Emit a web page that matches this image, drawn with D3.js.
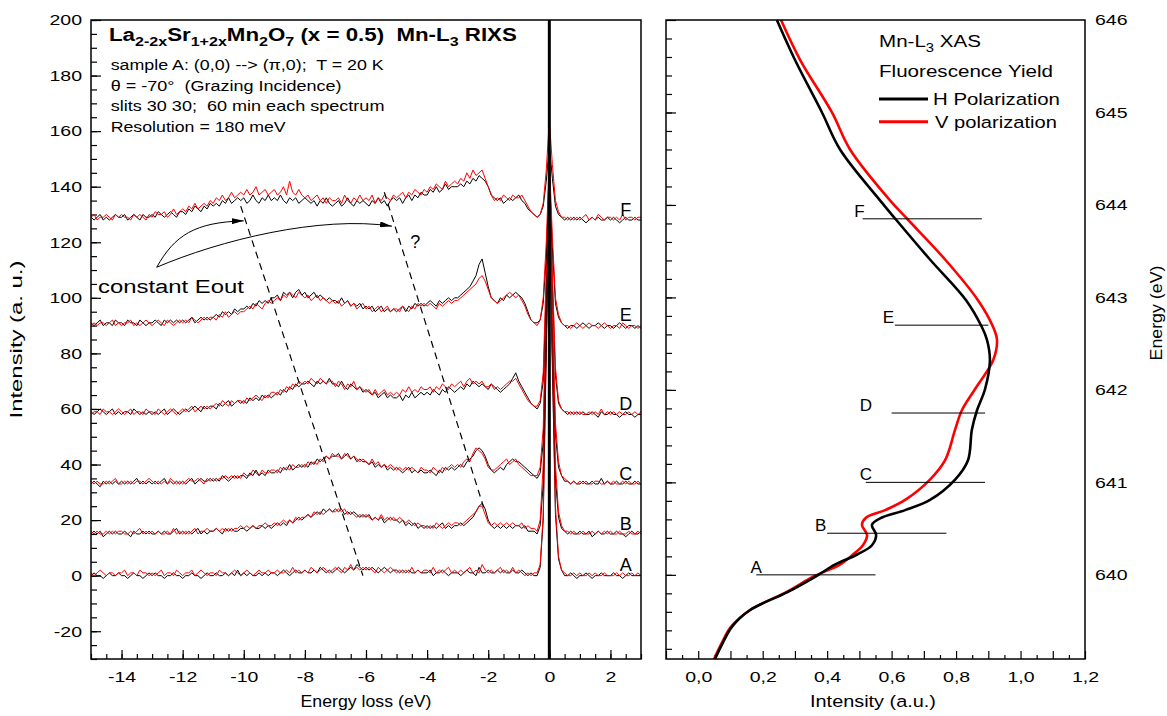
<!DOCTYPE html>
<html>
<head>
<meta charset="utf-8">
<script src="https://cdnjs.cloudflare.com/ajax/libs/d3/7.8.5/d3.min.js"></script>
<style>
  body { margin: 0; background: #fff; }
  svg text { font-family: "Liberation Sans", Arial, sans-serif; white-space: pre; fill: #000; }
</style>
</head>
<body>
<svg id="chart" width="1167" height="716"></svg>
<script>
// ---- RIXS spectra: energy loss grid (eV) and intensities relative to each offset ----
const eLoss = d3.range(181).map(i => Math.round((-15 + i * 0.1) * 10) / 10);
const names = ["A", "B", "C", "D", "E", "F"];
const offsets = [0, 15, 33, 58, 90, 128];

const aH = [0,1,0,0,-1,0,1,0,0,1, 0,0,-1,0,1,0,0,-1,0,1, 0,1,0,0,-1,0,0,1,0,0, -1,0,0,1,0,0,-1,0,1,0, 0,1,0,0,1,0,1,0,2,0, 1,0,1,0,0,1,0,1,0,1, 1,0,1,2,1,0,1,2,1,1, 2,1,1,2,1,3,2,1,2,1, 2,3,2,1,2,3,2,4,3,2, 3,2,3,2,1,2,3,2,1,2, 2,1,2,1,2,1,1,2,1,1, 1,2,0,1,1,2,1,0,1,1, 1,0,1,2,1,1,0,3,1,1, 2,1,1,2,1,2,1,1,2,1, 1,2,1,0,1,0,0,3,20,80, 140,75,22,6,2,0,0,1,0,-1, 0,0,1,0,-1,0,0,1,0,0, 0,1,0,0,-1,0,1,0,0,0, 0];
const aV = [1,0,1,2,1,0,1,1,0,1, 1,2,0,1,1,0,2,1,1,0, 1,0,1,2,0,1,1,0,2,1, 0,1,1,2,0,1,2,1,0,1, 1,0,2,1,1,0,1,2,1,0, 1,2,1,0,1,2,1,1,2,1, 1,2,1,1,2,1,3,1,2,1, 2,1,3,2,1,2,3,2,1,2, 3,2,1,3,2,4,2,3,2,3, 2,3,2,1,3,2,1,2,3,2, 1,2,1,2,1,3,1,2,1,2, 2,1,3,1,2,1,2,3,1,2, 1,2,1,2,3,1,2,1,4,2, 1,2,1,2,3,1,2,1,3,1, 2,1,0,1,0,1,1,4,22,85, 135,78,25,7,2,1,0,0,1,0, 1,0,0,1,0,1,0,0,1,0, 0,0,1,0,1,0,0,1,0,1, 0];
const bH = [0,1,0,1,-1,0,1,0,1,0, 0,1,0,-1,1,0,0,1,0,1, 0,0,1,0,1,0,0,1,2,0, 1,0,1,0,1,2,0,1,0,1, 1,2,1,0,2,1,2,1,1,2, 2,1,2,3,2,2,3,2,3,2, 3,4,3,4,3,5,4,5,6,5, 6,7,6,7,8,7,9,8,9,8, 9,8,9,7,8,7,8,7,6,7, 6,7,5,6,5,6,4,5,6,5, 5,4,5,3,4,3,4,2,3,2, 3,2,3,2,3,4,2,3,2,3, 3,4,3,4,5,6,8,10,11,9, 5,3,2,3,2,3,2,3,2,3, 3,2,3,1,1,1,0,3,18,70, 125,65,20,6,2,1,0,1,0,0, 1,0,0,1,-1,0,1,0,0,1, 0,0,1,0,0,-1,0,1,0,0, 1];
const bV = [1,0,1,0,0,1,0,1,0,1, 1,0,0,1,0,1,2,0,1,0, 1,0,1,0,0,1,0,2,0,1, 0,1,0,1,2,0,1,1,2,1, 1,2,1,2,1,2,1,2,2,3, 2,3,2,3,2,3,3,4,3,3, 4,3,4,5,4,5,4,6,5,6, 6,7,6,8,7,8,7,8,9,8, 8,9,8,9,7,8,7,6,7,6, 7,6,5,6,5,7,5,6,5,6, 5,6,5,4,5,4,3,4,3,3, 2,3,2,4,3,2,3,4,3,4, 4,3,4,5,6,7,8,10,10,7, 4,3,4,3,4,3,4,3,4,3, 3,4,2,3,2,2,1,5,25,80, 120,70,25,8,3,1,1,0,1,0, 0,1,0,0,1,0,1,0,1,0, 1,0,0,1,0,0,1,0,0,1, 0];
const cH = [0,1,0,-1,1,0,1,0,1,0, 1,0,1,0,1,2,0,1,0,1, 0,1,0,1,2,0,1,0,1,0, 1,0,1,2,0,1,2,1,1,2, 1,2,1,3,2,1,2,3,2,3, 3,2,4,3,5,3,4,3,5,4, 4,5,4,6,5,7,5,6,7,6, 7,6,8,7,9,8,9,10,9,10, 10,11,9,10,11,9,10,8,9,8, 8,7,8,6,7,6,7,5,6,5, 6,5,4,5,6,4,5,4,5,4, 4,5,4,3,5,4,6,5,6,5, 6,7,6,8,9,10,12,13,12,10, 7,5,4,5,6,5,7,8,9,8, 8,7,6,5,4,3,2,4,15,60, 112,58,18,6,3,1,1,0,1,0, 0,1,0,0,1,0,0,2,0,1, 0,0,1,0,0,1,0,0,1,0, 0];
const cV = [1,0,1,0,0,1,0,1,2,0, 0,1,0,1,0,1,1,0,1,2, 1,0,1,0,1,0,2,1,0,1, 0,1,2,1,1,2,1,0,2,1, 2,1,2,2,3,2,3,2,3,2, 4,3,3,5,4,3,5,4,4,5, 5,4,6,5,6,5,7,6,6,7, 6,8,7,8,7,9,8,10,9,11, 10,10,9,11,10,9,10,9,8,9, 8,7,9,7,8,6,7,6,7,6, 5,6,5,6,5,6,5,4,6,5, 5,4,6,5,4,6,5,6,7,6, 7,6,8,9,8,11,13,12,11,9, 6,5,5,6,7,8,9,7,8,9, 7,6,5,4,3,3,3,6,20,70, 110,62,22,8,3,2,1,0,1,0, 1,0,1,0,0,1,1,0,0,1, 0,1,0,0,1,0,1,0,0,1, 0];
const dH = [1,0,1,2,1,0,1,2,0,1, 0,1,1,0,2,1,0,1,0,1, 0,1,0,1,2,0,1,2,1,0, 1,2,1,2,3,2,1,3,2,3, 3,2,4,3,4,5,3,4,5,4, 5,4,6,5,6,5,7,6,7,6, 7,8,7,9,8,10,9,11,10,11, 11,12,11,10,12,11,12,11,13,11, 11,10,12,10,9,11,10,9,10,8, 9,8,7,8,6,7,8,6,7,6, 6,7,5,7,6,8,6,7,8,7, 8,7,9,8,7,9,8,10,9,8, 9,10,9,11,10,12,11,10,11,10, 9,11,10,9,8,9,10,11,13,15, 12,10,8,6,4,3,2,4,12,45, 95,48,14,4,2,1,0,1,0,1, 0,1,0,0,1,0,-1,1,0,0, 1,0,0,-1,0,1,0,0,-1,0, 0];
const dV = [0,1,1,0,2,1,1,0,1,2, 1,0,1,2,0,1,1,0,2,1, 1,0,2,1,0,1,2,1,0,1, 2,1,2,3,1,2,3,2,3,2, 3,4,3,5,4,3,5,4,5,5, 4,6,5,6,7,6,5,7,6,8, 8,7,9,8,10,9,11,10,12,11, 12,11,13,12,11,13,12,11,12,12, 10,12,11,9,11,10,12,9,10,9, 8,9,7,9,7,8,9,7,8,7, 8,7,9,8,10,8,9,8,10,9, 9,10,8,10,9,11,10,9,11,10, 11,12,10,12,13,11,12,11,12,10, 10,11,9,10,9,10,11,12,12,13, 11,9,7,5,4,3,3,5,15,52, 92,50,17,5,2,1,1,0,1,0, 1,0,0,1,0,1,0,2,0,1, 0,1,0,1,0,0,1,0,1,0, 1];
const eH = [1,0,1,2,0,1,1,0,2,1, 1,0,2,1,1,0,2,1,0,1, 1,2,1,0,2,1,2,1,2,1, 2,1,2,3,1,2,3,2,3,2, 3,4,3,5,4,5,4,6,5,6, 6,7,6,8,7,9,8,9,8,10, 10,11,9,12,11,12,10,12,13,11, 12,10,11,12,10,11,10,9,10,9, 9,8,10,8,9,7,8,7,8,6, 7,6,7,5,6,7,5,6,5,6, 5,6,7,5,7,6,8,7,8,7, 8,9,8,7,9,8,9,10,9,10, 10,11,12,13,14,16,18,22,24,19, 14,10,9,8,10,9,11,10,11,12, 11,10,8,5,2,1,1,2,8,25, 55,28,8,3,1,0,-1,0,0,-1, 0,1,0,-1,0,0,1,0,-1,0, 0,-1,0,1,0,-1,0,0,-1,0, -1];
const eV = [0,1,0,1,1,0,1,2,0,1, 0,1,1,2,0,1,0,1,2,1, 0,1,2,1,0,2,1,0,1,2, 1,2,1,3,2,1,2,3,2,3, 3,2,4,3,5,3,4,5,4,5, 5,6,7,6,8,7,6,8,9,8, 9,10,9,11,10,12,11,10,12,11, 10,11,9,10,11,9,10,9,8,9, 8,9,7,8,9,7,8,6,7,8, 6,7,5,6,7,5,6,7,5,6, 6,5,7,6,5,7,6,8,7,8, 7,8,7,6,8,7,8,9,8,9, 9,10,11,12,13,14,15,17,18,16, 13,10,9,8,9,10,11,12,11,10, 11,9,7,4,2,1,0,2,10,30, 60,32,10,4,1,0,0,-1,0,1, 0,-1,0,1,0,0,-1,0,1,0, -1,0,0,-1,1,0,-1,0,0,-1, 0];
const fH = [1,0,1,2,0,1,0,1,2,1, 1,2,0,1,2,1,0,2,1,1, 2,1,3,2,1,2,3,2,1,3, 3,2,4,3,5,4,3,5,4,6, 5,6,5,7,6,8,6,7,8,7, 8,6,7,9,7,6,8,7,9,7, 8,7,9,7,6,8,7,8,6,7, 8,7,6,7,5,7,6,8,6,5, 6,7,5,6,8,6,5,7,6,7, 6,5,7,6,8,6,7,5,7,8, 7,8,6,8,9,7,9,8,10,9, 9,11,10,12,10,11,13,11,12,12, 12,13,12,14,13,15,14,16,15,14, 12,9,8,7,8,6,7,8,7,8, 9,7,6,4,3,2,1,2,5,14, 27,15,5,2,1,0,1,0,1,0, 1,0,-1,0,1,0,1,0,0,1, 0,1,0,-1,0,1,0,0,1,0, 0];
const fV = [1,2,0,1,1,2,1,0,2,1, 2,1,1,0,2,1,2,1,0,2, 1,3,2,2,3,1,2,4,2,3, 4,3,5,4,6,4,5,6,5,7, 6,8,7,9,7,8,10,8,9,10, 9,11,9,10,12,9,10,11,9,10, 11,9,10,12,9,14,10,9,11,9, 8,9,7,8,9,7,8,6,8,7, 7,8,6,9,7,6,8,7,9,7, 8,7,9,6,8,7,9,8,7,9, 8,9,10,8,10,9,11,10,9,11, 10,12,11,13,12,11,14,12,13,14, 13,15,14,17,15,18,16,17,18,15, 12,9,7,8,7,9,8,7,9,8, 8,9,7,5,3,2,1,2,6,18, 36,20,7,3,1,1,0,1,0,1, 0,1,2,0,1,0,2,1,0,1, 1,0,1,0,2,0,1,1,0,1, 1];

const specH = [aH, bH, cH, dH, eH, fH];
const specV = [aV, bV, cV, dV, eV, fV];

// ---- XAS (fluorescence yield): photon energy (eV) vs intensity ----
const xasE = [646.00, 645.57, 645.00, 644.60, 644.05, 643.84, 643.41, 642.97, 642.68, 642.54,
              642.32, 642.01, 641.78, 641.57, 641.24, 641.03, 640.81, 640.70, 640.62, 640.54,
              640.43, 640.32, 640.22, 640.11, 639.99, 639.81, 639.62, 639.44, 639.27, 639.09];
const xasH = [0.244, 0.300, 0.384, 0.440, 0.564, 0.614, 0.719, 0.831, 0.880, 0.896,
              0.905, 0.890, 0.865, 0.849, 0.837, 0.797, 0.719, 0.642, 0.570, 0.539,
              0.552, 0.539, 0.493, 0.424, 0.368, 0.275, 0.161, 0.105, 0.077, 0.052];
const xasV = [0.257, 0.316, 0.415, 0.471, 0.595, 0.651, 0.766, 0.868, 0.915, 0.927,
              0.915, 0.859, 0.818, 0.797, 0.766, 0.719, 0.642, 0.580, 0.521, 0.508,
              0.524, 0.511, 0.480, 0.440, 0.362, 0.272, 0.161, 0.102, 0.074, 0.049];

// incident energies marked on the XAS panel
const markE = [640.0, 640.45, 641.0, 641.75, 642.7, 643.85];
const markFrom = [0.18, 0.40, 0.52, 0.60, 0.61, 0.51];
const markTo = [0.55, 0.77, 0.89, 0.89, 0.90, 0.88];
const markLabelX = [0.18, 0.38, 0.52, 0.52, 0.59, 0.50];

// guide lines (energy loss, intensity)
const dash1 = [[-10.1, 133], [-6.1, 0]];
const dash2 = [[-5.4, 138], [-2.15, 24.6]];
const arrow1 = [[-12.85, 111], [-12.26, 122.5], [-11.61, 127.2], [-10.0, 127.7]];
const arrow2 = [[-12.85, 111], [-10.79, 120.7], [-7.51, 129.7], [-5.15, 125.8]];

// ticks
const yMajor = d3.range(-20, 201, 20);
const yMinor = d3.range(-30, 201, 5);
const xMajor = d3.range(-14, 3, 2);
const xMinor = d3.range(-15, 3.01, 0.5);
const xrLabels = [0, 0.2, 0.4, 0.6, 0.8, 1.0, 1.2];
const xrMajor = d3.range(-0.1, 1.201, 0.1);
const xrMinor = d3.range(-0.05, 1.2, 0.1);
const yrMajor = [640, 641, 642, 643, 644, 645, 646];
const yrMinor = d3.range(639.2, 646, 0.2);

// ---------------------------------------------------------------
const svg = d3.select("#chart");
const L = { x0: 91, x1: 641, y0: 20, y1: 659 };
const R = { x0: 666, x1: 1085, y0: 20, y1: 659 };

const x = d3.scaleLinear().domain([-15, 3]).range([L.x0, L.x1]);
const y = d3.scaleLinear().domain([-30, 200]).range([L.y1, L.y0]);
const xr = d3.scaleLinear().domain([-0.1, 1.2]).range([R.x0, R.x1]);
const yr = d3.scaleLinear().domain([639.09, 646]).range([R.y1, R.y0]);

const TICK_FONT = 15, TICK_STRETCH = 1.3;
const plain = d => String(d);   // hyphen minus, as in the original

function styleAxis(g) {
  g.select(".domain").remove();
  g.attr("font-size", TICK_FONT).attr("font-family", null);
  g.selectAll(".tick line").attr("stroke", "#000").attr("stroke-width", 1.2);
  g.selectAll(".tick text").each(function () {
    const w = this.getComputedTextLength();
    if (w > 0) d3.select(this).attr("textLength", w * TICK_STRETCH).attr("lengthAdjust", "spacingAndGlyphs");
  });
}

// text with subscripts, parts beginning with "_" are subscripts
function rich(parent, parts, size, weight) {
  const t = parent.append("text").attr("font-size", size).attr("font-weight", weight || "normal");
  let down = false;
  parts.forEach(p => {
    const sub = p.startsWith("_");
    const ts = t.append("tspan").text(sub ? p.slice(1) : p);
    if (sub) ts.attr("font-size", size * 0.72);
    if (sub !== down) { ts.attr("dy", (sub ? 1 : -1) * size * 0.3); down = sub; }
  });
  return t;
}

function label(tx, ty, parts, size, width, opts) {
  opts = opts || {};
  const g = svg.append("g").attr("transform", `translate(${tx},${ty})` + (opts.rotate ? " rotate(-90)" : ""));
  const t = rich(g, parts, size, opts.weight);
  if (opts.anchor) t.attr("text-anchor", opts.anchor);
  if (width) {
    const w = t.node().getBBox().width;
    t.attr("transform", `scale(${width / w},1)`);
  }
  return t;
}

// ---- left panel axes ----
svg.append("g").attr("transform", `translate(${L.x0},0)`)
  .call(d3.axisLeft(y).tickValues(yMinor).tickSizeInner(-6).tickSizeOuter(0).tickFormat(""))
  .call(styleAxis);
svg.append("g").attr("transform", `translate(${L.x0},0)`)
  .call(d3.axisLeft(y).tickValues(yMajor).tickSizeInner(-10).tickSizeOuter(0).tickPadding(9).tickFormat(plain))
  .call(styleAxis);
svg.append("g").attr("transform", `translate(0,${L.y1})`)
  .call(d3.axisBottom(x).tickValues(xMinor).tickSizeInner(-5).tickSizeOuter(0).tickFormat(""))
  .call(styleAxis);
svg.append("g").attr("transform", `translate(0,${L.y1})`)
  .call(d3.axisBottom(x).tickValues(xMajor).tickSizeInner(-9).tickSizeOuter(0).tickPadding(12).tickFormat(plain))
  .call(styleAxis);

// ---- right panel axes ----
const comma = d => d3.format(".1f")(d).replace(".", ",");
svg.append("g").attr("transform", `translate(0,${R.y1})`)
  .call(d3.axisBottom(xr).tickValues(xrMinor).tickSizeInner(-4).tickSizeOuter(0).tickFormat(""))
  .call(styleAxis);
svg.append("g").attr("transform", `translate(0,${R.y1})`)
  .call(d3.axisBottom(xr).tickValues(xrMajor).tickSizeInner(-8).tickSizeOuter(0).tickFormat(""))
  .call(styleAxis);
svg.append("g").attr("transform", `translate(0,${R.y1})`)
  .call(d3.axisBottom(xr).tickValues(xrLabels).tickSize(0).tickPadding(12).tickFormat(comma))
  .call(styleAxis);
svg.append("g").attr("transform", `translate(${R.x0},0)`)
  .call(d3.axisLeft(yr).tickValues(yrMinor).tickSizeInner(-6).tickSizeOuter(0).tickFormat(""))
  .call(styleAxis);
svg.append("g").attr("transform", `translate(${R.x0},0)`)
  .call(d3.axisLeft(yr).tickValues(yrMajor).tickSizeInner(-10).tickSizeOuter(0).tickFormat(""))
  .call(styleAxis);
svg.append("g").attr("transform", `translate(${R.x1},0)`)
  .call(d3.axisRight(yr).tickValues(yrMajor).tickSize(0).tickPadding(10).tickFormat(plain))
  .call(styleAxis);

// ---- RIXS spectra ----
const line = d3.line().x(d => x(d[0])).y(d => y(d[1]));
const gs = svg.append("g").attr("fill", "none").attr("stroke-width", 1).attr("stroke-linejoin", "round");
names.forEach((n, k) => {
  [[specH[k], "#000"], [specV[k], "#ff0000"]].forEach(([vals, col]) => {
    const pts = eLoss.map((e, i) => [e, offsets[k] + vals[i]]).filter(d => !isNaN(d[1]));
    gs.append("path").attr("d", line(pts)).attr("stroke", col);
  });
});

// elastic line at zero loss
svg.append("line").attr("x1", x(0)).attr("x2", x(0)).attr("y1", y(-30)).attr("y2", y(200))
  .attr("stroke", "#000").attr("stroke-width", 3);

// spectrum labels
names.forEach((n, k) => {
  svg.append("text").attr("x", x(2.5)).attr("y", y(offsets[k] + 1.5))
    .attr("text-anchor", "middle").attr("font-size", 18).text(n);
});

// dashed constant-Eout guides
[dash1, dash2].forEach(d => {
  svg.append("path").attr("d", line(d)).attr("fill", "none").attr("stroke", "#000")
    .attr("stroke-width", 1.2).attr("stroke-dasharray", "7,5");
});

// arrows
svg.append("defs").append("marker").attr("id", "ah")
  .attr("viewBox", "0 0 12 6").attr("refX", 12).attr("refY", 3)
  .attr("markerWidth", 12).attr("markerHeight", 6).attr("markerUnits", "userSpaceOnUse")
  .attr("orient", "auto")
  .append("path").attr("d", "M0,0 L12,3 L0,6 Z").attr("fill", "#000");
[arrow1, arrow2].forEach(a => {
  const p = d3.path();
  p.moveTo(x(a[0][0]), y(a[0][1]));
  p.bezierCurveTo(x(a[1][0]), y(a[1][1]), x(a[2][0]), y(a[2][1]), x(a[3][0]), y(a[3][1]));
  svg.append("path").attr("d", p.toString()).attr("fill", "none").attr("stroke", "#000")
    .attr("stroke-width", 1).attr("marker-end", "url(#ah)");
});

label(x(-14.77), y(101.6), ["constant Eout"], 18, 146);
label(x(-4.39), y(117.8), ["?"], 18, null, { anchor: "middle" });

// header block
label(L.x0 + 18, 40.7, ["La", "_2-2x", "Sr", "_1+2x", "Mn", "_2", "O", "_7", " (x = 0.5)  Mn-L", "_3", " RIXS"], 19, 408, { weight: "bold" });
label(L.x0 + 19.7, 69.5, ["sample A: (0,0) --> (π,0);  T = 20 K"], 14, 274);
label(L.x0 + 19.7, 90.5, ["θ = -70°  (Grazing Incidence)"], 14, 231);
label(L.x0 + 19.7, 111, ["slits 30 30;  60 min each spectrum"], 14, 274);
label(L.x0 + 19.7, 131.5, ["Resolution = 180 meV"], 14, 176);

// axis titles
label(22, (L.y0 + L.y1) / 2, ["Intensity (a. u.)"], 17, 158, { rotate: true, anchor: "middle" });
label((L.x0 + L.x1) / 2, 707, ["Energy loss (eV)"], 17, 131, { anchor: "middle" });
label(873, 707, ["Intensity (a.u.)"], 17, 126, { anchor: "middle" });
label(1162, 313, ["Energy (eV)"], 17, 95, { rotate: true, anchor: "middle" });

// ---- XAS panel ----
const xasLine = d3.line().x(d => xr(d[0])).y(d => yr(d[1])).curve(d3.curveCatmullRom);
svg.append("path").attr("d", xasLine(xasV.map((v, i) => [v, xasE[i]])))
  .attr("fill", "none").attr("stroke", "#ff0000").attr("stroke-width", 2.6);
svg.append("path").attr("d", xasLine(xasH.map((v, i) => [v, xasE[i]])))
  .attr("fill", "none").attr("stroke", "#000").attr("stroke-width", 2.6);

names.forEach((n, k) => {
  svg.append("line").attr("x1", xr(markFrom[k])).attr("x2", xr(markTo[k]))
    .attr("y1", yr(markE[k])).attr("y2", yr(markE[k])).attr("stroke", "#000").attr("stroke-width", 1);
  svg.append("text").attr("x", xr(markLabelX[k])).attr("y", yr(markE[k]) - 2)
    .attr("text-anchor", "middle").attr("font-size", 17).text(n);
});

// legend
label(879, 46.7, ["Mn-L", "_3", " XAS"], 17, 102);
label(879, 76.7, ["Fluorescence Yield"], 17, 174);
svg.append("line").attr("x1", 879).attr("x2", 928).attr("y1", 99).attr("y2", 99).attr("stroke", "#000").attr("stroke-width", 3);
svg.append("line").attr("x1", 879).attr("x2", 928).attr("y1", 121.7).attr("y2", 121.7).attr("stroke", "#ff0000").attr("stroke-width", 3);
label(933, 105, ["H Polarization"], 17, 127);
label(935, 128, ["V polarization"], 17, 122);

// frames
[L, R].forEach(p => {
  svg.append("rect").attr("x", p.x0).attr("y", p.y0).attr("width", p.x1 - p.x0).attr("height", p.y1 - p.y0)
    .attr("fill", "none").attr("stroke", "#000").attr("stroke-width", 1.5);
});
</script>
</body>
</html>
